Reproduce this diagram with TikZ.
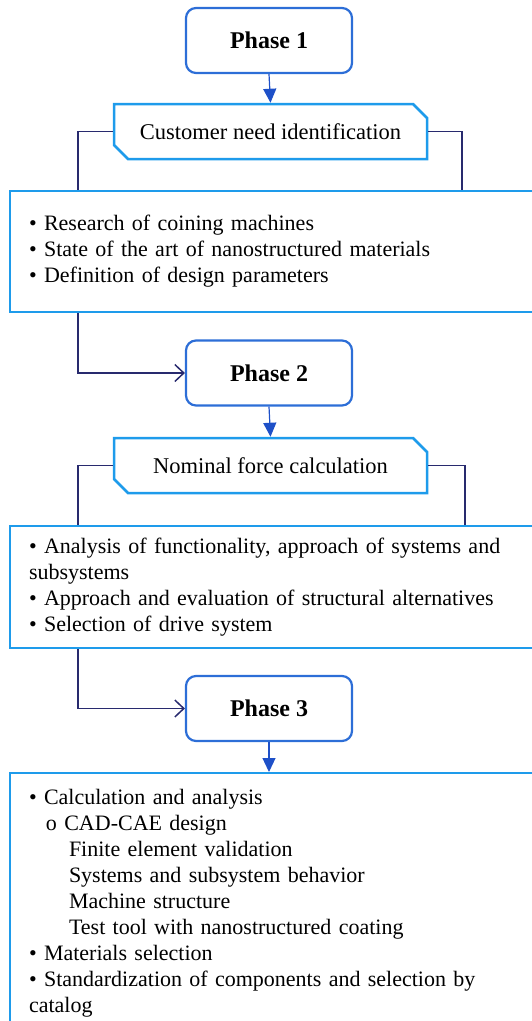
\documentclass[tikz,border=0pt]{standalone}
\usepackage{fontspec}
\setmainfont{Liberation Serif}
\usetikzlibrary{shapes.misc,arrows.meta}

\definecolor{phaseblue}{RGB}{45,110,215}
\definecolor{skyblue}{RGB}{30,155,235}
\definecolor{navy}{RGB}{40,42,110}
\definecolor{arrowblue}{RGB}{30,80,200}

\begin{document}
\begin{tikzpicture}[x=1pt,y=-1pt]
\tikzset{phase/.style={rectangle,rounded corners=10pt,draw=phaseblue,line width=2.2pt,
    minimum width=166pt,minimum height=65pt,font=\fontsize{24}{28}\selectfont\bfseries}}
\tikzset{task/.style={chamfered rectangle,chamfered rectangle corners={north east,south west},
    chamfered rectangle xsep=7pt,chamfered rectangle ysep=7pt,draw=skyblue,line width=2.5pt,
    minimum width=313pt,minimum height=55pt,font=\fontsize{22.5}{26}\selectfont}}
\tikzset{list/.style={rectangle,draw=skyblue,line width=2pt,anchor=north west,
    minimum width=540pt,text width=502pt,inner xsep=19pt,align=left,
    font=\fontsize{22}{26}\selectfont}}
\tikzset{down/.style={draw=arrowblue,line width=1.2pt,-{Triangle[length=14pt,width=13pt]}},
    side/.style={draw=navy,line width=1.5pt,-{Straight Barb[length=9pt,width=17pt,line width=1.5pt]}},
    link/.style={draw=navy,line width=1.3pt}}

\useasboundingbox (0,0) rectangle (532,1021);
\clip (0,0) rectangle (532,1021);

% phases
\foreach \i/\y in {1/40.5,2/373,3/708.5} {
    \node[phase] (p\i) at (269,\y) {Phase \i};
}

% tasks
\node[task] (t1) at (270.5,131.5) {Customer need identification};
\node[task] (t2) at (270.5,465.5) {Nominal force calculation};

% lists
\node[list,minimum height=121pt] (l1) at (9,190) {\textbullet{} Research of coining machines\\
\textbullet{} State of the art of nanostructured materials\\
\textbullet{} Definition of design parameters};
\node[list,minimum height=122pt] (l2) at (9,525) {\textbullet{} Analysis of functionality, approach of systems and\\
subsystems\\
\textbullet{} Approach and evaluation of structural alternatives\\
\textbullet{} Selection of drive system};
\node[list,minimum height=260pt] (l3) at (9,772) {\textbullet{} Calculation and analysis\\
\hspace*{17pt}o CAD-CAE design\\
\hspace*{40pt}Finite element validation\\
\hspace*{40pt}Systems and subsystem behavior\\
\hspace*{40pt}Machine structure\\
\hspace*{40pt}Test tool with nanostructured coating\\
\textbullet{} Materials selection\\
\textbullet{} Standardization of components and selection by\\
catalog};

% connectors
\draw[down] (p1.south) -- (t1.north);
\draw[down] (p2.south) -- (t2.north);
\draw[down] (p3.south) -- (p3.south |- l3.north);

\draw[link] (t1.west) -| ([xshift=69pt]l1.north west);
\draw[link] (t1.east) -| ([xshift=453pt]l1.north west);
\draw[link] (t2.west) -| ([xshift=69pt]l2.north west);
\draw[link] (t2.east) -| ([xshift=456pt]l2.north west);

\draw[side] ([xshift=69pt]l1.south west) |- (p2.west);
\draw[side] ([xshift=69pt]l2.south west) |- (p3.west);

\end{tikzpicture}
\end{document}
